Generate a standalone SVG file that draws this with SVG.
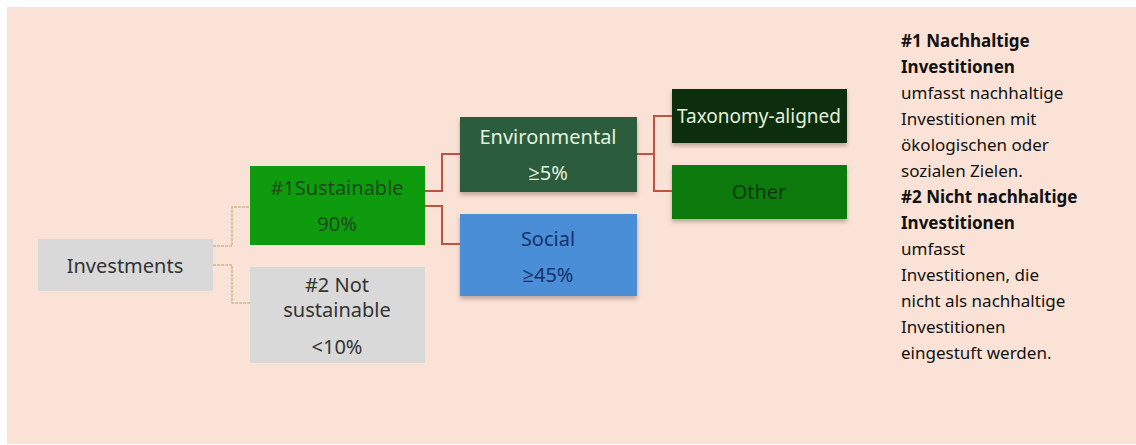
<svg xmlns="http://www.w3.org/2000/svg" width="1136" height="445" viewBox="0 0 1136 445">
<defs>
<filter id="sh" x="-10%" y="-10%" width="120%" height="140%">
<feDropShadow dx="0" dy="3" stdDeviation="2" flood-color="#7a5a50" flood-opacity="0.45"/>
</filter>
</defs>
<style>
.lbl{font-family:"Noto Sans","Open Sans",sans-serif;font-size:20px;text-anchor:middle}
.sm{font-size:19px}
.side{font-family:"Noto Sans","Open Sans",sans-serif;font-size:17px;fill:#111}
.b{font-weight:bold}
.c1{fill:none;stroke:#C9B98F;stroke-width:1.5;stroke-dasharray:3 1}
.c2{fill:none;stroke:#C0533F;stroke-width:2}
</style>
<rect x="0" y="0" width="1136" height="445" fill="#ffffff"/>
<rect x="7" y="7" width="1129" height="437" fill="#FAE2D6"/>
<g id="connectors">
<path class="c1" d="M213 246 H232 V207 H250"/>
<path class="c1" d="M213 265 H232 V303 H250"/>
<path class="c2" d="M425 191 H442 V154 H460"/>
<path class="c2" d="M425 206 H442 V244 H460"/>
<path class="c2" d="M637 154 H654 V116 H672"/>
<path class="c2" d="M654 154 V191 H672"/>
</g>
<g id="investments">
<rect x="38" y="239" width="175" height="52" fill="#D9D9D9"/>
<text class="lbl" x="125" y="273" fill="#333">Investments</text>
</g>
<g id="sustainable">
<rect x="250" y="166" width="175" height="79" fill="#0E9B0E"/>
<text class="lbl" x="337" y="195" fill="#1D4A1D">#1Sustainable</text>
<text class="lbl" x="337" y="231" fill="#1D4A1D">90%</text>
</g>
<g id="not-sustainable">
<rect x="250" y="267" width="175" height="96" fill="#D9D9D9"/>
<text class="lbl" x="337" y="292" fill="#333">#2 Not</text>
<text class="lbl" x="337" y="317" fill="#333">sustainable</text>
<text class="lbl" x="337" y="354" fill="#333">&lt;10%</text>
</g>
<g id="environmental">
<rect x="460" y="117" width="177" height="75" fill="#2B5C3E" filter="url(#sh)"/>
<text class="lbl" x="548" y="144" fill="#E4F2DC">Environmental</text>
<text class="lbl" x="548" y="180" fill="#E4F2DC">≥5%</text>
</g>
<g id="social">
<rect x="460" y="214" width="177" height="82" fill="#4A8ED6" filter="url(#sh)"/>
<text class="lbl" x="548" y="246" fill="#16316A">Social</text>
<text class="lbl" x="548" y="282" fill="#16316A">≥45%</text>
</g>
<g id="taxonomy">
<rect x="672" y="89" width="175" height="54" fill="#0B2E0B" filter="url(#sh)"/>
<text class="lbl sm" x="759" y="123" fill="#E4F2DC">Taxonomy-aligned</text>
</g>
<g id="other">
<rect x="672" y="165" width="175" height="54" fill="#0B7A0B" filter="url(#sh)"/>
<text class="lbl" x="759" y="199" fill="#0A3A0A">Other</text>
</g>
<g id="legend">
<text class="side b" x="901" y="47">#1 Nachhaltige</text>
<text class="side b" x="901" y="73">Investitionen</text>
<text class="side" x="901" y="99">umfasst nachhaltige</text>
<text class="side" x="901" y="125">Investitionen mit</text>
<text class="side" x="901" y="151">ökologischen oder</text>
<text class="side" x="901" y="177">sozialen Zielen.</text>
<text class="side b" x="901" y="203">#2 Nicht nachhaltige</text>
<text class="side b" x="901" y="229">Investitionen</text>
<text class="side" x="901" y="255">umfasst</text>
<text class="side" x="901" y="281">Investitionen, die</text>
<text class="side" x="901" y="307">nicht als nachhaltige</text>
<text class="side" x="901" y="333">Investitionen</text>
<text class="side" x="901" y="359">eingestuft werden.</text>
</g>
</svg>
